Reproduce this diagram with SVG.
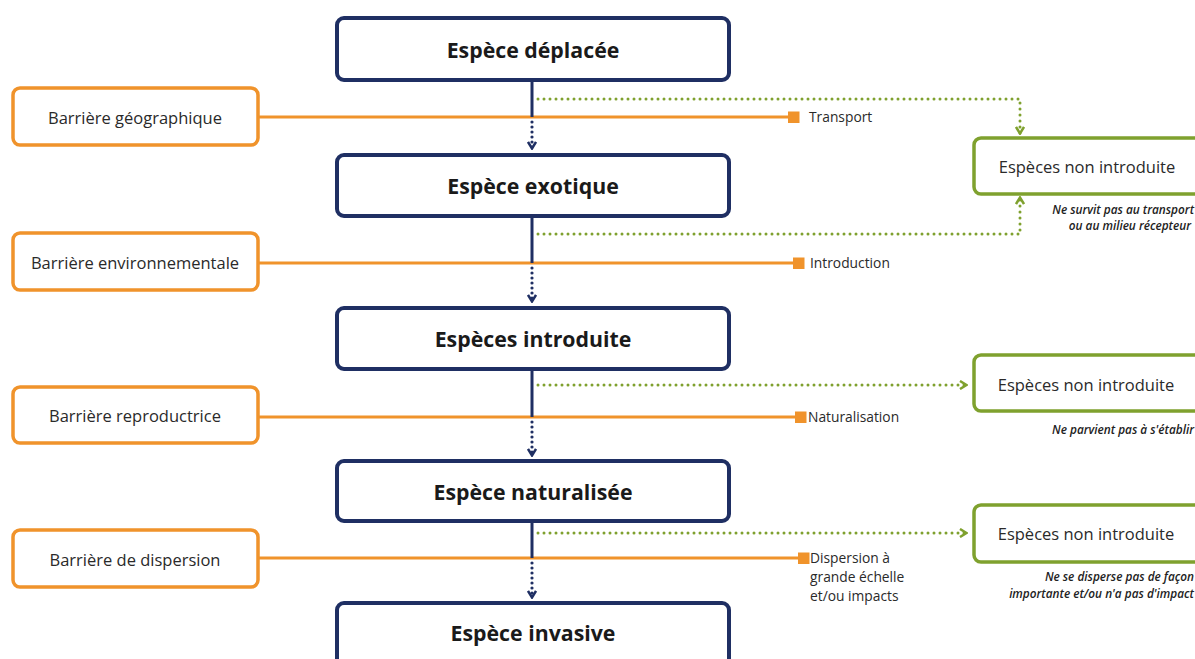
<svg xmlns="http://www.w3.org/2000/svg" width="1195" height="659" viewBox="0 0 1195 659">
<style>
.main rect{fill:#fff;stroke:#1f2f63;stroke-width:4}
.main text{font-family:"Open Sans","Liberation Sans",sans-serif;font-weight:700;font-size:21.3px;fill:#1a1a1a;text-anchor:middle;dominant-baseline:central}
.bar rect{fill:#fff;stroke:#f0932b;stroke-width:3.5}
.bar text{font-family:"Open Sans","Liberation Sans",sans-serif;font-size:16.5px;fill:#2a2a2a;text-anchor:middle;dominant-baseline:central}
.out rect{fill:#fff;stroke:#7fa12e;stroke-width:3.5}
.out text{font-family:"Open Sans","Liberation Sans",sans-serif;font-size:16.5px;fill:#2a2a2a;text-anchor:middle;dominant-baseline:central}
.out text.note{font-size:11.8px;font-style:italic;font-weight:600;text-anchor:end;fill:#222}
.solid{fill:none;stroke:#1f2f63;stroke-width:3}
.bdot{fill:none;stroke:#1f2f63;stroke-width:3.2;stroke-dasharray:0 5;stroke-linecap:round}
.gdot{fill:none;stroke:#7fa12e;stroke-width:3;stroke-dasharray:0 6;stroke-linecap:round}
.oline{fill:none;stroke:#f0932b;stroke-width:3}
.sq{fill:#f0932b}
.lbl{font-family:"Open Sans","Liberation Sans",sans-serif;font-size:13.8px;fill:#2a2a2a}
</style>
<defs>
<marker id="ab" viewBox="0 0 10 10" refX="9" refY="5" markerWidth="10" markerHeight="10" markerUnits="userSpaceOnUse" orient="auto">
<path d="M2 1 L8.5 5 L2 9" fill="none" stroke="#1f2f63" stroke-width="2.5"/>
</marker>
<marker id="ag" viewBox="0 0 10 10" refX="9" refY="5" markerWidth="10" markerHeight="10" markerUnits="userSpaceOnUse" orient="auto">
<path d="M2 1 L8.5 5 L2 9" fill="none" stroke="#7fa12e" stroke-width="2.5"/>
</marker>
</defs>

<g id="connectors">
<path class="oline" d="M258 117 H794"/><rect class="sq" x="788" y="111.5" width="11.5" height="11.5"/>
<path class="oline" d="M258 263 H798"/><rect class="sq" x="793" y="257.5" width="11.5" height="11.5"/>
<path class="oline" d="M258 417 H800"/><rect class="sq" x="795" y="411.5" width="11.5" height="11.5"/>
<path class="oline" d="M258 558 H803"/><rect class="sq" x="798" y="552.5" width="11.5" height="11.5"/>
<path class="solid" d="M532 82 V117"/><path class="bdot" d="M532 122 V149" marker-end="url(#ab)"/>
<path class="solid" d="M532 217 V263"/><path class="bdot" d="M532 268 V302" marker-end="url(#ab)"/>
<path class="solid" d="M532 371 V417"/><path class="bdot" d="M532 422 V456" marker-end="url(#ab)"/>
<path class="solid" d="M532 523 V558"/><path class="bdot" d="M532 563 V598" marker-end="url(#ab)"/>
<path class="gdot" d="M538 99 H1020 V134" marker-end="url(#ag)"/>
<path class="gdot" d="M538 234 H1020 V197" marker-end="url(#ag)"/>
<path class="gdot" d="M538 385 H967" marker-end="url(#ag)"/>
<path class="gdot" d="M538 533 H967" marker-end="url(#ag)"/>
<text class="lbl" x="809" y="122">Transport</text>
<text class="lbl" x="810" y="268">Introduction</text>
<text class="lbl" x="808" y="422">Naturalisation</text>
<text class="lbl" x="810" y="563">Dispersion à</text>
<text class="lbl" x="810" y="582">grande échelle</text>
<text class="lbl" x="810" y="601">et/ou impacts</text>
</g>

<g id="n1" class="main"><rect x="337" y="18" width="392" height="62" rx="7"/><text x="533" y="49">Espèce déplacée</text></g>
<g id="n2" class="main"><rect x="337" y="155" width="392" height="61" rx="7"/><text x="533" y="185">Espèce exotique</text></g>
<g id="n3" class="main"><rect x="337" y="308" width="392" height="61" rx="7"/><text x="533" y="338">Espèces introduite</text></g>
<g id="n4" class="main"><rect x="337" y="461" width="392" height="60" rx="7"/><text x="533" y="491">Espèce naturalisée</text></g>
<g id="n5" class="main"><rect x="337" y="603" width="392" height="70" rx="7"/><text x="533" y="632">Espèce invasive</text></g>

<g id="b1" class="bar"><rect x="13" y="88" width="245" height="57" rx="7"/><text x="135" y="117">Barrière géographique</text></g>
<g id="b2" class="bar"><rect x="13" y="233" width="245" height="57" rx="7"/><text x="135" y="262">Barrière environnementale</text></g>
<g id="b3" class="bar"><rect x="13" y="387" width="245" height="56" rx="7"/><text x="135" y="415">Barrière reproductrice</text></g>
<g id="b4" class="bar"><rect x="13" y="530" width="245" height="57" rx="7"/><text x="135" y="559">Barrière de dispersion</text></g>

<g id="o1" class="out"><rect x="974" y="138" width="260" height="56" rx="7"/><text x="1087" y="166">Espèces non introduite</text>
<text class="note" x="1194" y="209">Ne survit pas au transport</text><text class="note" x="1191" y="225">ou au milieu récepteur</text></g>
<g id="o2" class="out"><rect x="974" y="355" width="260" height="56" rx="7"/><text x="1086" y="384">Espèces non introduite</text>
<text class="note" x="1194" y="429">Ne parvient pas à s'établir</text></g>
<g id="o3" class="out"><rect x="974" y="505" width="260" height="57" rx="7"/><text x="1086" y="533">Espèces non introduite</text>
<text class="note" x="1194" y="576">Ne se disperse pas de façon</text><text class="note" x="1194" y="593">importante et/ou n'a pas d'impact</text></g>
</svg>
